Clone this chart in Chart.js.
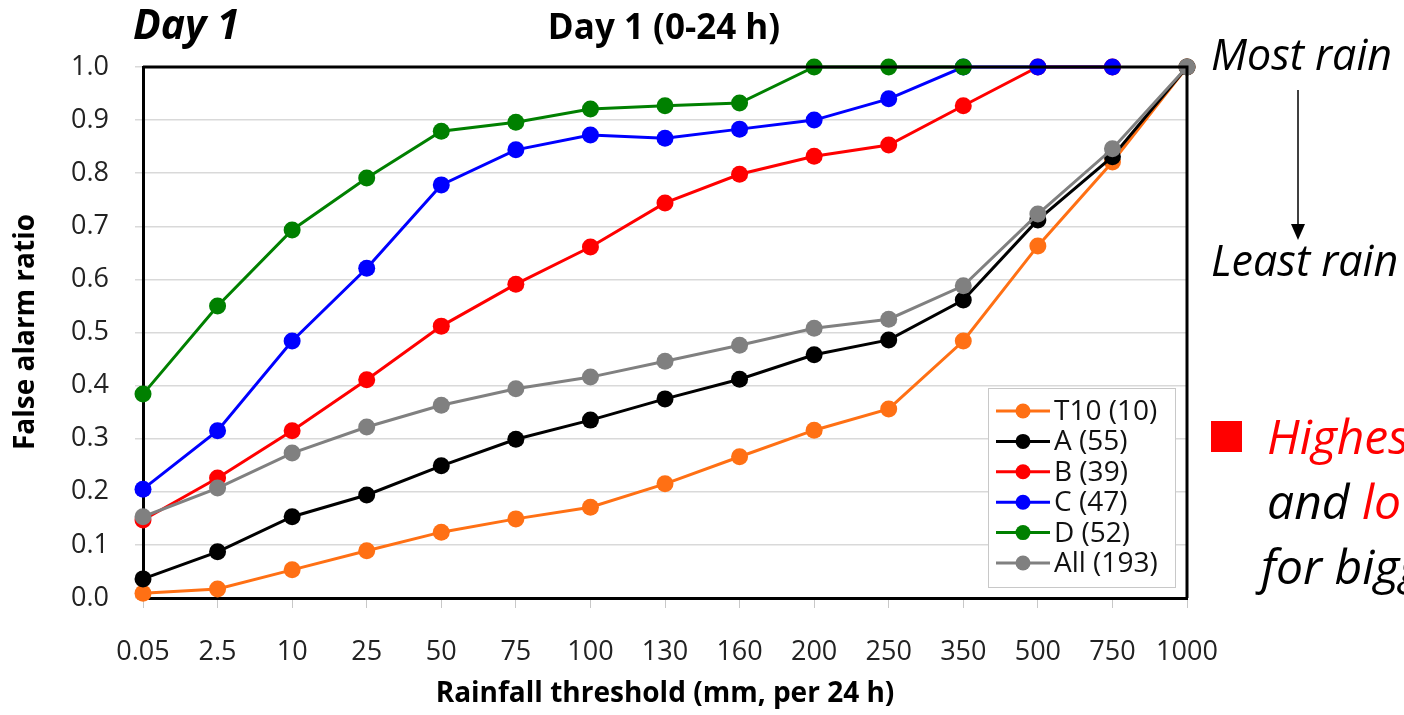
<!DOCTYPE html>
<html>
<head>
<meta charset="utf-8">
<script src="https://cdn.jsdelivr.net/npm/chart.js@4/dist/chart.umd.min.js"></script>
<style>
  html, body { margin: 0; padding: 0; background: #fff; }
  #wrap { width: 1404px; height: 715px; position: relative; }
</style>
</head>
<body>
<div id="wrap"><canvas id="chartFar"></canvas></div>
<script>
// Rainfall thresholds (mm per 24 h)
var categories = ['0.05', '2.5', '10', '25', '50', '75', '100', '130', '160', '200', '250', '350', '500', '750', '1000'];

// False alarm ratio per group, Day 1
var t10 = [0.009, 0.017, 0.053, 0.089, 0.124, 0.149, 0.171, 0.215, 0.266, 0.316, 0.356, 0.484, 0.663, 0.821, 1.0];
var seriesA = [0.036, 0.087, 0.153, 0.194, 0.249, 0.299, 0.335, 0.375, 0.412, 0.458, 0.486, 0.561, 0.712, 0.831, 1.0];
var seriesB = [0.147, 0.226, 0.315, 0.411, 0.512, 0.591, 0.661, 0.744, 0.798, 0.832, 0.853, 0.927, 1.0, 1.0, null];
var seriesC = [0.205, 0.315, 0.484, 0.621, 0.778, 0.844, 0.872, 0.866, 0.883, 0.900, 0.940, 1.0, 1.0, 1.0, null];
var seriesD = [0.384, 0.550, 0.693, 0.791, 0.879, 0.896, 0.921, 0.927, 0.932, 1.0, 1.0, 1.0, null, null, null];
var seriesAll = [0.153, 0.207, 0.273, 0.322, 0.363, 0.394, 0.416, 0.446, 0.476, 0.508, 0.525, 0.588, 0.723, 0.846, 1.0];

var seriesLabels = ['T10 (10)', 'A (55)', 'B (39)', 'C (47)', 'D (52)', 'All (193)'];
var seriesColors = ['#ff7014', '#000000', '#ff0000', '#0000ff', '#008000', '#808080'];

var FONT = "'Open Sans', 'Noto Sans', sans-serif";

function makeSet(i, data) {
  return {
    label: seriesLabels[i],
    data: data,
    borderColor: seriesColors[i],
    backgroundColor: seriesColors[i],
    pointBackgroundColor: seriesColors[i],
    pointBorderColor: seriesColors[i],
    pointRadius: 8.5,
    pointBorderWidth: 0,
    borderWidth: 3,
    tension: 0,
    spanGaps: false,
    clip: false,
    order: 5 - i
  };
}

// draws frame, titles, custom legend and side notes
var decor = {
  id: 'decor',
  afterDraw: function (chart) {
    var ctx = chart.ctx;
    var a = chart.chartArea;
    ctx.save();

    // top + right frame
    ctx.strokeStyle = '#000';
    ctx.lineWidth = 3;
    ctx.beginPath();
    ctx.moveTo(a.left, a.top);
    ctx.lineTo(a.right, a.top);
    ctx.lineTo(a.right, a.bottom);
    ctx.stroke();

    ctx.fillStyle = '#000';
    ctx.textBaseline = 'middle';

    // titles
    ctx.textAlign = 'left';
    ctx.font = 'italic bold 41px ' + FONT;
    ctx.fillText('Day 1', 133, 27);
    ctx.textAlign = 'center';
    ctx.font = 'bold 35px ' + FONT;
    ctx.fillText('Day 1 (0-24 h)', 664, 29);

    // axis titles
    ctx.font = 'bold 28px ' + FONT;
    ctx.fillText('Rainfall threshold (mm, per 24 h)', (a.left + a.right) / 2, 694);
    ctx.save();
    ctx.translate(26, 332);
    ctx.rotate(-Math.PI / 2);
    ctx.fillText('False alarm ratio', 0, 0);
    ctx.restore();

    // legend box
    var lx = 988, ly = 388, lw = 187, lh = 199;
    ctx.fillStyle = '#fff';
    ctx.fillRect(lx, ly, lw, lh);
    ctx.strokeStyle = '#c8c8c8';
    ctx.lineWidth = 1;
    ctx.strokeRect(lx + 0.5, ly + 0.5, lw, lh);
    ctx.textAlign = 'left';
    ctx.font = '28px ' + FONT;
    chart.data.datasets.forEach(function (ds, i) {
      var y = 411 + i * 30.4;
      ctx.strokeStyle = ds.borderColor;
      ctx.lineWidth = 3;
      ctx.beginPath();
      ctx.moveTo(996, y);
      ctx.lineTo(1050, y);
      ctx.stroke();
      ctx.fillStyle = ds.borderColor;
      ctx.beginPath();
      ctx.arc(1023, y, 7.5, 0, Math.PI * 2);
      ctx.fill();
      ctx.fillStyle = '#111';
      ctx.fillText(ds.label, 1054, y + 1);
    });

    // side notes
    ctx.fillStyle = '#000';
    ctx.font = 'italic 43px ' + FONT;
    ctx.fillText('Most rain', 1211, 58);
    ctx.fillText('Least rain', 1211, 264);
    ctx.strokeStyle = '#000';
    ctx.lineWidth = 1.5;
    ctx.beginPath();
    ctx.moveTo(1298, 90);
    ctx.lineTo(1298, 228);
    ctx.stroke();
    ctx.beginPath();
    ctx.moveTo(1291, 224);
    ctx.lineTo(1305, 224);
    ctx.lineTo(1298, 240);
    ctx.closePath();
    ctx.fill();

    ctx.fillStyle = '#ff0000';
    ctx.fillRect(1211, 421, 31, 31);
    ctx.font = 'italic 48px ' + FONT;
    ctx.fillText('Highest', 1267, 440);
    ctx.fillStyle = '#000';
    ctx.fillText('and ', 1267, 505);
    var w = ctx.measureText('and ').width;
    ctx.fillStyle = '#ff0000';
    ctx.fillText('lowest', 1267 + w, 505);
    ctx.fillStyle = '#000';
    ctx.fillText('for bigger', 1261, 570);

    ctx.restore();
  }
};

new Chart(document.getElementById('chartFar').getContext('2d'), {
  type: 'line',
  data: {
    labels: categories,
    datasets: [
      makeSet(0, t10),
      makeSet(1, seriesA),
      makeSet(2, seriesB),
      makeSet(3, seriesC),
      makeSet(4, seriesD),
      makeSet(5, seriesAll)
    ]
  },
  options: {
    responsive: true,
    maintainAspectRatio: false,
    animation: false,
    layout: { padding: { top: 67, right: 217, bottom: 0, left: 0 } },
    plugins: {
      legend: { display: false },
      title: { display: false },
      tooltip: { enabled: false }
    },
    scales: {
      x: {
        offset: false,
        afterFit: function (s) { s.height = 117; },
        grid: { drawOnChartArea: false, drawTicks: true, tickLength: 10, color: '#c8c8c8', lineWidth: 1 },
        border: { color: '#000', width: 3 },
        ticks: { color: '#222', padding: 28, maxRotation: 0, autoSkip: false, font: { family: FONT, size: 27 } }
      },
      y: {
        min: 0,
        max: 1,
        afterFit: function (s) { s.width = 143; },
        grid: { color: '#d9d9d9', lineWidth: 1.5, tickLength: 8, drawTicks: true },
        border: { color: '#000', width: 3 },
        ticks: {
          stepSize: 0.1,
          color: '#222',
          padding: 26,
          font: { family: FONT, size: 27 },
          callback: function (v) { return v.toFixed(1); }
        }
      }
    }
  },
  plugins: [decor]
});
</script>
</body>
</html>
